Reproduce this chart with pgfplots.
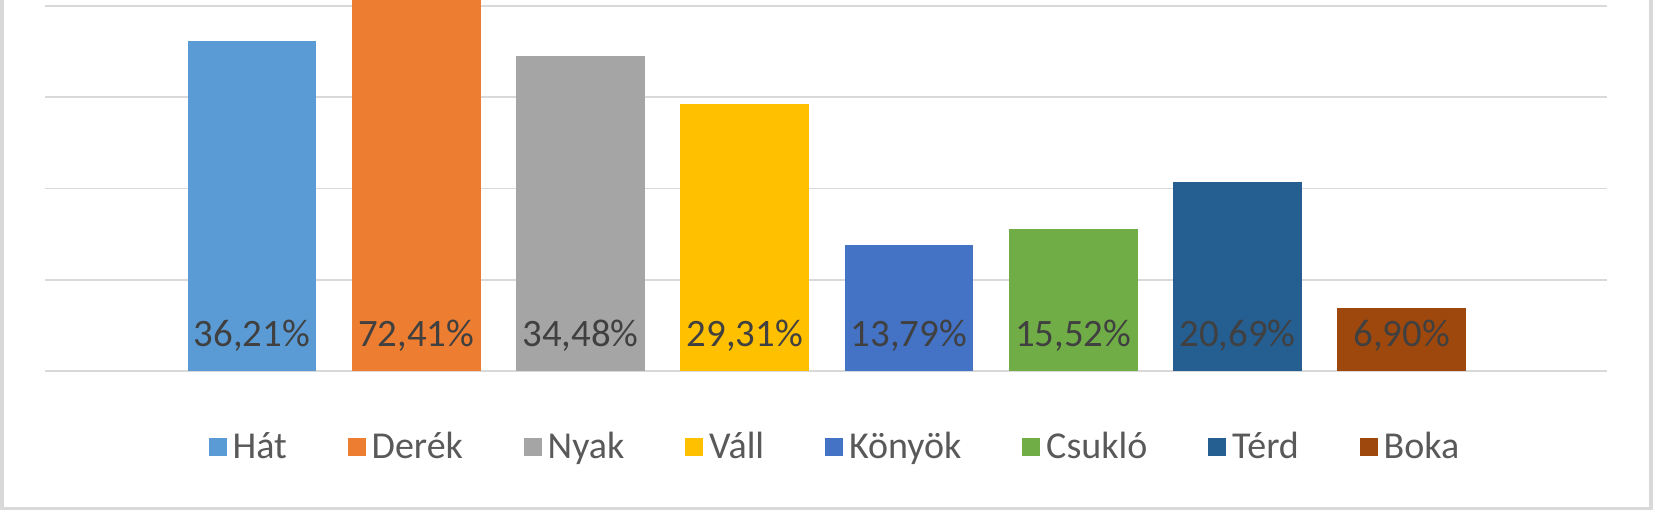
\documentclass[border=0pt]{standalone}
\usepackage{pgfplots}
\pgfplotsset{compat=1.18}
\usepackage{fontspec}
\setmainfont{Carlito}
\definecolor{cHat}{HTML}{5B9BD5}
\definecolor{cDerek}{HTML}{ED7D31}
\definecolor{cNyak}{HTML}{A5A5A5}
\definecolor{cVall}{HTML}{FFC000}
\definecolor{cKonyok}{HTML}{4472C4}
\definecolor{cCsuklo}{HTML}{70AD47}
\definecolor{cTerd}{HTML}{255E91}
\definecolor{cBoka}{HTML}{9E480E}
\definecolor{gridc}{HTML}{D9D9D9}
\definecolor{labc}{HTML}{404040}
\definecolor{legc}{HTML}{595959}
\begin{document}
\begin{tikzpicture}
\path[use as bounding box, fill=white] (0,0) rectangle (827.5pt,256pt);
\draw[gridc, line width=1.6pt] (1pt,260pt) -- (1pt,1.75pt) -- (825.5pt,1.75pt) -- (825.5pt,260pt);
\begin{axis}[
  at={(22.5pt,70.5pt)}, anchor=south west,
  scale only axis, width=781pt, height=185.5pt,
  xmin=-1.26, xmax=8.25, ymin=0, ymax=40.66,
  enlargelimits=false,
  ybar, bar width=64.4pt, bar shift=0pt,
  axis line style={draw=none},
  xtick=\empty, ytick={0,10,20,30,40}, yticklabels={},
  major tick length=0pt,
  ymajorgrids, grid style={gridc, line width=0.9pt},
  legend columns=8,
  legend style={at={(0.507,-0.205)}, anchor=center, draw=none, fill=none,
    font=\fontsize{19}{21}\selectfont, text=legc,
    nodes={inner sep=3pt},
    /tikz/every even column/.append style={column sep=27.4pt}},
  legend image code/.code={\fill[#1] (0pt,-4.5pt) rectangle (9pt,4.5pt);},
]
\addplot[fill=cHat, draw=none] coordinates {(0,36.21)};
\addlegendentry{Hát}
\addplot[fill=cDerek, draw=none] coordinates {(1,72.41)};
\addlegendentry{Derék}
\addplot[fill=cNyak, draw=none] coordinates {(2,34.48)};
\addlegendentry{Nyak}
\addplot[fill=cVall, draw=none] coordinates {(3,29.31)};
\addlegendentry{Váll}
\addplot[fill=cKonyok, draw=none] coordinates {(4,13.79)};
\addlegendentry{Könyök}
\addplot[fill=cCsuklo, draw=none] coordinates {(5,15.52)};
\addlegendentry{Csukló}
\addplot[fill=cTerd, draw=none] coordinates {(6,20.69)};
\addlegendentry{Térd}
\addplot[fill=cBoka, draw=none] coordinates {(7,6.90)};
\addlegendentry{Boka}
\addplot[forget plot, draw=none, fill=none, bar width=0pt,
  nodes near coords, point meta=explicit symbolic,
  every node near coord/.style={anchor=center, text=labc, font=\fontsize{19.4}{21}\selectfont}]
  coordinates {(0,3.9)[36,21\%] (1,3.9)[72,41\%] (2,3.9)[34,48\%] (3,3.9)[29,31\%]
               (4,3.9)[13,79\%] (5,3.9)[15,52\%] (6,3.9)[20,69\%] (7,3.9)[6,90\%]};
\end{axis}
\end{tikzpicture}
\end{document}
